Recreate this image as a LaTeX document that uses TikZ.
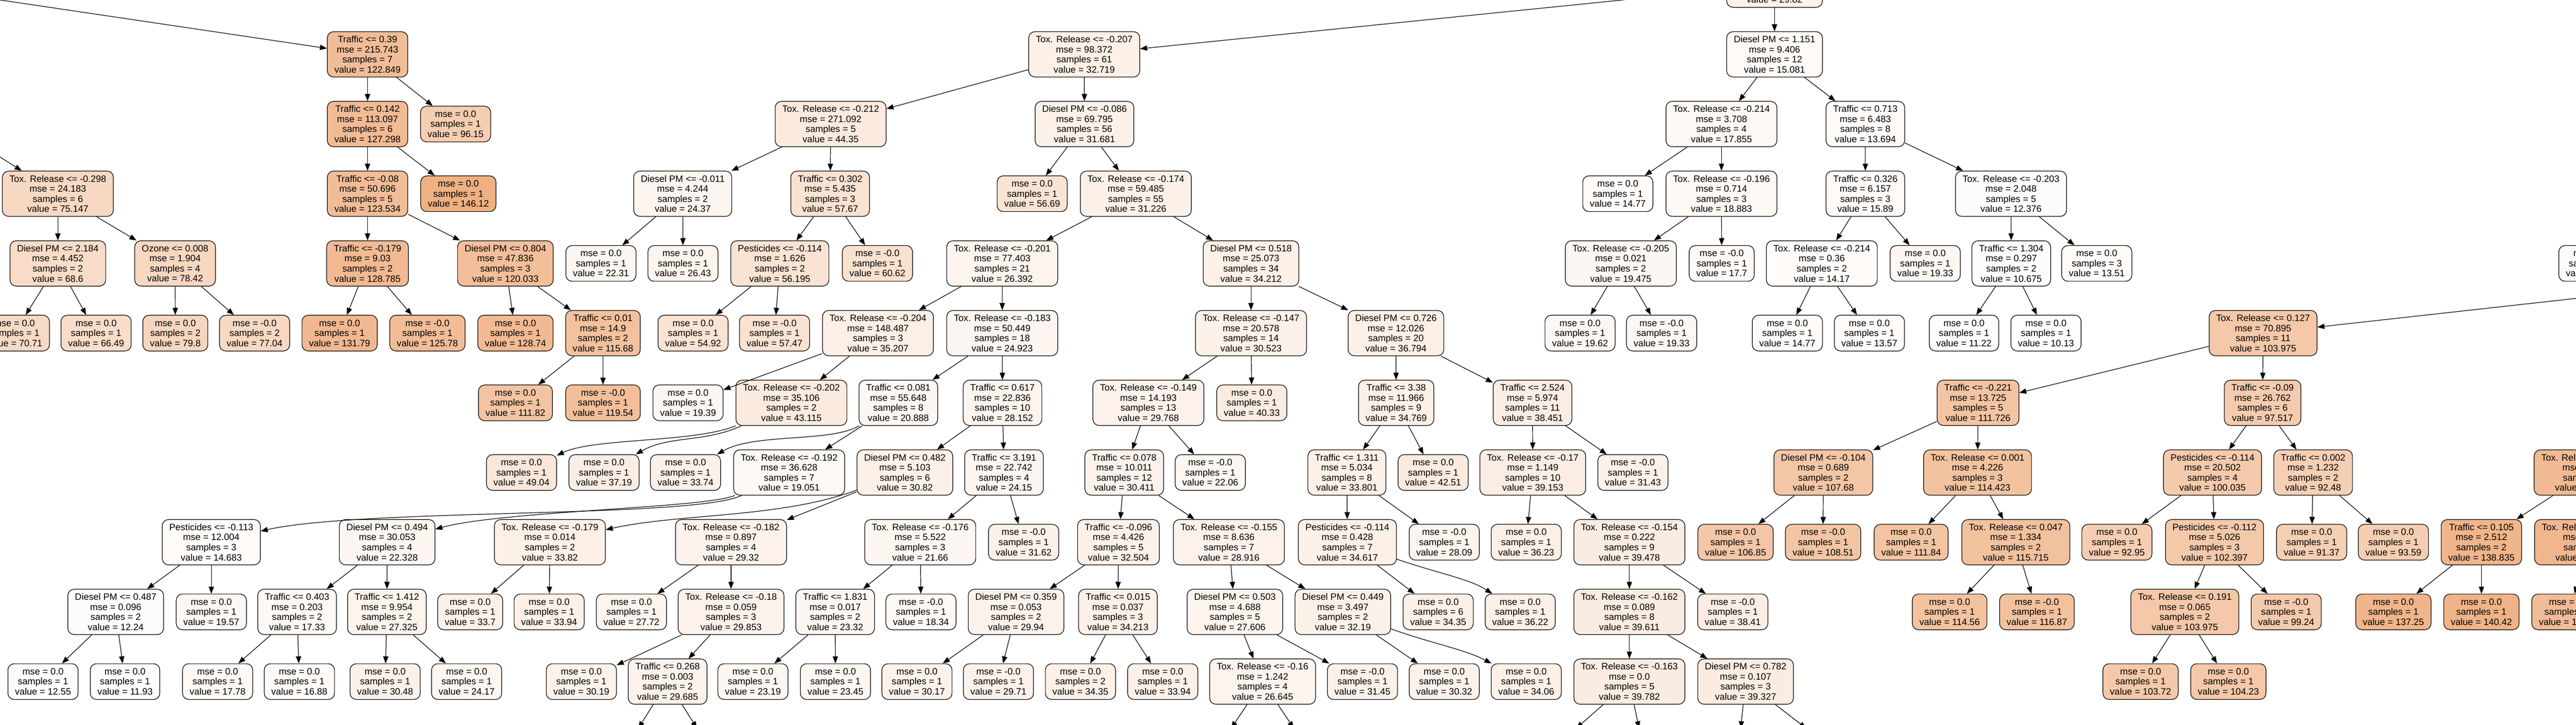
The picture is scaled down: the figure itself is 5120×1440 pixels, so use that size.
\documentclass[tikz,border=0pt]{standalone}
\usepackage{fontspec}
\setmainfont{Liberation Sans}
\usetikzlibrary{arrows.meta}
\definecolor{orng}{RGB}{229,129,57}
\begin{document}
\begin{tikzpicture}[x=0.02cm, y=-0.02cm, font={\fontsize{10.5}{11.4}\selectfont}, line width=0.7pt, line join=round, >={Triangle[length=8pt,width=6pt]},
	tbox/.style={draw, rounded corners=7pt, align=center, inner xsep=8pt, inner ysep=2pt},
	dec/.style={tbox, minimum height=1.8cm},
	lf/.style={tbox, minimum height=1.42cm},
	ghost/.style={minimum width=3cm, minimum height=1.8cm},
	val/.code={\pgfmathtruncatemacro\pct{(#1-6)*100/222}\edef\valfill{\noexpand\pgfkeysalso{fill=orng!\pct!white}}\valfill}]
	\useasboundingbox (0,0) rectangle (5120,1440);
	\clip (0,0) rectangle (5120,1440);
	\path
	(-206,-30.5)node[ghost](p1){}
	(3527,-30.5)node[dec,val=29.82](x0){\phantom{Diesel PM <= 0.000}\\\phantom{mse}\\\phantom{samples}\\value = 29.82}
	(730.5,108)node[dec,val=122.849](a0){Traffic <= 0.39\\mse = 215.743\\samples = 7\\value = 122.849}
	(2155,108)node[dec,val=32.719](b0){Tox. Release <= -0.207\\mse = 98.372\\samples = 61\\value = 32.719}
	(3527,108)node[dec,val=15.081](c0){Diesel PM <= 1.151\\mse = 9.406\\samples = 12\\value = 15.081}
	;
	\path
	(-103,246.5)node[ghost](p2){}
	(730.5,246.5)node[dec,val=127.298](a1){Traffic <= 0.142\\mse = 113.097\\samples = 6\\value = 127.298}
	(905.5,246.5)node[lf,val=96.15](a1r){mse = 0.0\\samples = 1\\value = 96.15}
	(1651,246.5)node[dec,val=44.35](b1){Tox. Release <= -0.212\\mse = 271.092\\samples = 5\\value = 44.35}
	(2155.5,246.5)node[dec,val=31.681](b1r){Diesel PM <= -0.086\\mse = 69.795\\samples = 56\\value = 31.681}
	(3421.5,246.5)node[dec,val=17.855](c1){Tox. Release <= -0.214\\mse = 3.708\\samples = 4\\value = 17.855}
	(3707.5,246.5)node[dec,val=13.694](c1r){Traffic <= 0.713\\mse = 6.483\\samples = 8\\value = 13.694}
	;
	\path
	(115,385)node[dec,val=75.147](l2){Tox. Release <= -0.298\\mse = 24.183\\samples = 6\\value = 75.147}
	(730.5,385)node[dec,val=123.534](a2){Traffic <= -0.08\\mse = 50.696\\samples = 5\\value = 123.534}
	(911,385)node[lf,val=146.12](a2r){mse = 0.0\\samples = 1\\value = 146.12}
	(1357,385)node[dec,val=24.37](b2){Diesel PM <= -0.011\\mse = 4.244\\samples = 2\\value = 24.37}
	(1650,385)node[dec,val=57.67](b2r){Traffic <= 0.302\\mse = 5.435\\samples = 3\\value = 57.67}
	(2051.5,385)node[lf,val=56.69](d2){mse = 0.0\\samples = 1\\value = 56.69}
	(2257.5,385)node[dec,val=31.226](e2){Tox. Release <= -0.174\\mse = 59.485\\samples = 55\\value = 31.226}
	(3215.5,385)node[lf,val=14.77](c2){mse = 0.0\\samples = 1\\value = 14.77}
	(3421.5,385)node[dec,val=18.883](c2b){Tox. Release <= -0.196\\mse = 0.714\\samples = 3\\value = 18.883}
	(3707.5,385)node[dec,val=15.89](f2){Traffic <= 0.326\\mse = 6.157\\samples = 3\\value = 15.89}
	(3997,385)node[dec,val=12.376](g2){Tox. Release <= -0.203\\mse = 2.048\\samples = 5\\value = 12.376}
	;
	\path
	(115,523.5)node[dec,val=68.6](l3a){Diesel PM <= 2.184\\mse = 4.452\\samples = 2\\value = 68.6}
	(348,523.5)node[dec,val=78.42](l3b){Ozone <= 0.008\\mse = 1.904\\samples = 4\\value = 78.42}
	(730.5,523.5)node[dec,val=128.785](a3){Traffic <= -0.179\\mse = 9.03\\samples = 2\\value = 128.785}
	(1004.5,523.5)node[dec,val=120.033](a3r){Diesel PM <= 0.804\\mse = 47.836\\samples = 3\\value = 120.033}
	(1194.5,523.5)node[lf,val=22.31](b3a){mse = 0.0\\samples = 1\\value = 22.31}
	(1357.5,523.5)node[lf,val=26.43](b3b){mse = 0.0\\samples = 1\\value = 26.43}
	(1550,523.5)node[dec,val=56.195](b3c){Pesticides <= -0.114\\mse = 1.626\\samples = 2\\value = 56.195}
	(1744,523.5)node[lf,val=60.62](b3d){mse = -0.0\\samples = 1\\value = 60.62}
	(1992,523.5)node[dec,val=26.392](e3){Tox. Release <= -0.201\\mse = 77.403\\samples = 21\\value = 26.392}
	(2486.5,523.5)node[dec,val=34.212](e3r){Diesel PM <= 0.518\\mse = 25.073\\samples = 34\\value = 34.212}
	(3221.5,523.5)node[dec,val=19.475](c3){Tox. Release <= -0.205\\mse = 0.021\\samples = 2\\value = 19.475}
	(3422,523.5)node[lf,val=17.7](c3r){mse = -0.0\\samples = 1\\value = 17.7}
	(3621,523.5)node[dec,val=14.17](f3){Tox. Release <= -0.214\\mse = 0.36\\samples = 2\\value = 14.17}
	(3826.5,523.5)node[lf,val=19.33](f3r){mse = 0.0\\samples = 1\\value = 19.33}
	(3997.5,523.5)node[dec,val=10.675](g3){Traffic <= 1.304\\mse = 0.297\\samples = 2\\value = 10.675}
	(4167.5,523.5)node[lf,val=13.51](g3r){mse = 0.0\\samples = 3\\value = 13.51}
	(5155.5,523.5)node[lf,val=12](z3){mse = \phantom{0.0}\\samples = \phantom{1}\\value = \phantom{00.00}}
	(5746,523.5)node[ghost](p3){}
	;
	\path
	(28.5,662)node[lf,val=70.71](l4a){mse = 0.0\\samples = 1\\value = 70.71}
	(191,662)node[lf,val=66.49](l4b){mse = 0.0\\samples = 1\\value = 66.49}
	(348.5,662)node[lf,val=79.8](l4c){mse = 0.0\\samples = 2\\value = 79.8}
	(506,662)node[lf,val=77.04](l4d){mse = -0.0\\samples = 2\\value = 77.04}
	(675,662)node[lf,val=131.79](a4a){mse = 0.0\\samples = 1\\value = 131.79}
	(849.5,662)node[lf,val=125.78](a4b){mse = -0.0\\samples = 1\\value = 125.78}
	(1024.5,662)node[lf,val=128.74](a4c){mse = 0.0\\samples = 1\\value = 128.74}
	(1198.5,662)node[dec,val=115.68](a4d){Traffic <= 0.01\\mse = 14.9\\samples = 2\\value = 115.68}
	(1377.5,662)node[lf,val=54.92](b4a){mse = 0.0\\samples = 1\\value = 54.92}
	(1539.5,662)node[lf,val=57.47](b4b){mse = -0.0\\samples = 1\\value = 57.47}
	(1745,662)node[dec,val=35.207](e4a){Tox. Release <= -0.204\\mse = 148.487\\samples = 3\\value = 35.207}
	(1992,662)node[dec,val=24.923](e4b){Tox. Release <= -0.183\\mse = 50.449\\samples = 18\\value = 24.923}
	(2486.5,662)node[dec,val=30.523](e4c){Tox. Release <= -0.147\\mse = 20.578\\samples = 14\\value = 30.523}
	(2774.5,662)node[dec,val=36.794](e4d){Diesel PM <= 0.726\\mse = 12.026\\samples = 20\\value = 36.794}
	(3140.5,662)node[lf,val=19.62](c4a){mse = 0.0\\samples = 1\\value = 19.62}
	(3302.5,662)node[lf,val=19.33](c4b){mse = -0.0\\samples = 1\\value = 19.33}
	(3552.5,662)node[lf,val=14.77](f4a){mse = 0.0\\samples = 1\\value = 14.77}
	(3715.5,662)node[lf,val=13.57](f4b){mse = 0.0\\samples = 1\\value = 13.57}
	(3903.5,662)node[lf,val=11.22](g4a){mse = 0.0\\samples = 1\\value = 11.22}
	(4066.5,662)node[lf,val=10.13](g4b){mse = 0.0\\samples = 1\\value = 10.13}
	(4498,662)node[dec,val=103.975](h4){Tox. Release <= 0.127\\mse = 70.895\\samples = 11\\value = 103.975}
	;
	\path
	(1024.5,800.5)node[lf,val=111.82](a5a){mse = 0.0\\samples = 1\\value = 111.82}
	(1198.5,800.5)node[lf,val=119.54](a5b){mse = -0.0\\samples = 1\\value = 119.54}
	(1367.5,800.5)node[lf,val=19.39](e5a){mse = 0.0\\samples = 1\\value = 19.39}
	(1573,800.5)node[dec,val=43.115](e5b){Tox. Release <= -0.202\\mse = 35.106\\samples = 2\\value = 43.115}
	(1785.5,800.5)node[dec,val=20.888](e5c){Traffic <= 0.081\\mse = 55.648\\samples = 8\\value = 20.888}
	(1992.5,800.5)node[dec,val=28.152](e5d){Traffic <= 0.617\\mse = 22.836\\samples = 10\\value = 28.152}
	(2282.5,800.5)node[dec,val=29.768](e5e){Tox. Release <= -0.149\\mse = 14.193\\samples = 13\\value = 29.768}
	(2488,800.5)node[lf,val=40.33](e5f){mse = 0.0\\samples = 1\\value = 40.33}
	(2775,800.5)node[dec,val=34.769](e5g){Traffic <= 3.38\\mse = 11.966\\samples = 9\\value = 34.769}
	(3046,800.5)node[dec,val=38.451](e5h){Traffic <= 2.524\\mse = 5.974\\samples = 11\\value = 38.451}
	(3931.5,800.5)node[dec,val=111.726](h5a){Traffic <= -0.221\\mse = 13.725\\samples = 5\\value = 111.726}
	(4497,800.5)node[dec,val=97.517](h5b){Traffic <= -0.09\\mse = 26.762\\samples = 6\\value = 97.517}
	;
	\path
	(1036.5,939)node[lf,val=49.04](r6a){mse = 0.0\\samples = 1\\value = 49.04}
	(1200.5,939)node[lf,val=37.19](r6b){mse = 0.0\\samples = 1\\value = 37.19}
	(1362.5,939)node[lf,val=33.74](r6c){mse = 0.0\\samples = 1\\value = 33.74}
	(1568.5,939)node[dec,val=19.051](r6d){Tox. Release <= -0.192\\mse = 36.628\\samples = 7\\value = 19.051}
	(1798.5,939)node[dec,val=30.82](r6e){Diesel PM <= 0.482\\mse = 5.103\\samples = 6\\value = 30.82}
	(1995.5,939)node[dec,val=24.15](r6f){Traffic <= 3.191\\mse = 22.742\\samples = 4\\value = 24.15}
	(2234.5,939)node[dec,val=30.411](r6g){Traffic <= 0.078\\mse = 10.011\\samples = 12\\value = 30.411}
	(2405.5,939)node[lf,val=22.06](r6h){mse = -0.0\\samples = 1\\value = 22.06}
	(2677,939)node[dec,val=33.801](r6i){Traffic <= 1.311\\mse = 5.034\\samples = 8\\value = 33.801}
	(2848.5,939)node[lf,val=42.51](r6j){mse = 0.0\\samples = 1\\value = 42.51}
	(3046.5,939)node[dec,val=39.153](r6k){Tox. Release <= -0.17\\mse = 1.149\\samples = 10\\value = 39.153}
	(3245.5,939)node[lf,val=31.43](r6l){mse = -0.0\\samples = 1\\value = 31.43}
	(3624,939)node[dec,val=107.68](r6m){Diesel PM <= -0.104\\mse = 0.689\\samples = 2\\value = 107.68}
	(3930.5,939)node[dec,val=114.423](r6n){Tox. Release <= 0.001\\mse = 4.226\\samples = 3\\value = 114.423}
	(4397.5,939)node[dec,val=100.035](r6o){Pesticides <= -0.114\\mse = 20.502\\samples = 4\\value = 100.035}
	(4597.5,939)node[dec,val=92.48](r6p){Traffic <= 0.002\\mse = 1.232\\samples = 2\\value = 92.48}
	(5144,939)node[dec,val=130](r6q){Tox. Release <= \phantom{0.000}\\mse = \phantom{0.000}\\samples = \phantom{0}\\value = \phantom{000.000}}
	;
	\path
	(420,1077.5)node[dec,val=14.683](r7a){Pesticides <= -0.113\\mse = 12.004\\samples = 3\\value = 14.683}
	(769.5,1077.5)node[dec,val=22.328](r7b){Diesel PM <= 0.494\\mse = 30.053\\samples = 4\\value = 22.328}
	(1093,1077.5)node[dec,val=33.82](r7c){Tox. Release <= -0.179\\mse = 0.014\\samples = 2\\value = 33.82}
	(1453,1077.5)node[dec,val=29.32](r7d){Tox. Release <= -0.182\\mse = 0.897\\samples = 4\\value = 29.32}
	(1829,1077.5)node[dec,val=21.66](r7e){Tox. Release <= -0.176\\mse = 5.522\\samples = 3\\value = 21.66}
	(2034.5,1077.5)node[lf,val=31.62](r7f){mse = -0.0\\samples = 1\\value = 31.62}
	(2223,1077.5)node[dec,val=32.504](r7g){Traffic <= -0.096\\mse = 4.426\\samples = 5\\value = 32.504}
	(2442.5,1077.5)node[dec,val=28.916](r7h){Tox. Release <= -0.155\\mse = 8.636\\samples = 7\\value = 28.916}
	(2678,1077.5)node[dec,val=34.617](r7i){Pesticides <= -0.114\\mse = 0.428\\samples = 7\\value = 34.617}
	(2870.5,1077.5)node[lf,val=28.09](r7j){mse = -0.0\\samples = 1\\value = 28.09}
	(3033.5,1077.5)node[lf,val=36.23](r7k){mse = 0.0\\samples = 1\\value = 36.23}
	(3238.5,1077.5)node[dec,val=39.478](r7l){Tox. Release <= -0.154\\mse = 0.222\\samples = 9\\value = 39.478}
	(3449.5,1077.5)node[lf,val=106.85](r7m){mse = 0.0\\samples = 1\\value = 106.85}
	(3623.5,1077.5)node[lf,val=108.51](r7n){mse = -0.0\\samples = 1\\value = 108.51}
	(3798.5,1077.5)node[lf,val=111.84](r7o){mse = 0.0\\samples = 1\\value = 111.84}
	(4006.5,1077.5)node[dec,val=115.715](r7p){Tox. Release <= 0.047\\mse = 1.334\\samples = 2\\value = 115.715}
	(4207.5,1077.5)node[lf,val=92.95](r7q){mse = 0.0\\samples = 1\\value = 92.95}
	(4401.5,1077.5)node[dec,val=102.397](r7r){Pesticides <= -0.112\\mse = 5.026\\samples = 3\\value = 102.397}
	(4594.5,1077.5)node[lf,val=91.37](r7s){mse = 0.0\\samples = 1\\value = 91.37}
	(4757,1077.5)node[lf,val=93.59](r7t){mse = 0.0\\samples = 1\\value = 93.59}
	(4932,1077.5)node[dec,val=138.835](r7v){Traffic <= 0.105\\mse = 2.512\\samples = 2\\value = 138.835}
	(5145,1077.5)node[dec,val=133](r7w){Tox. Release <= \phantom{0.000}\\mse = \phantom{0.000}\\samples = \phantom{0}\\value = \phantom{000.000}}
	;
	\path
	(230,1216)node[dec,val=12.24](r8a){Diesel PM <= 0.487\\mse = 0.096\\samples = 2\\value = 12.24}
	(420,1216)node[lf,val=19.57](r8b){mse = 0.0\\samples = 1\\value = 19.57}
	(590.5,1216)node[dec,val=17.33](r8c){Traffic <= 0.403\\mse = 0.203\\samples = 2\\value = 17.33}
	(769,1216)node[dec,val=27.325](r8d){Traffic <= 1.412\\mse = 9.954\\samples = 2\\value = 27.325}
	(934.5,1216)node[lf,val=33.7](r8e){mse = 0.0\\samples = 1\\value = 33.7}
	(1091.5,1216)node[lf,val=33.94](r8f){mse = 0.0\\samples = 1\\value = 33.94}
	(1255,1216)node[lf,val=27.72](r8g){mse = 0.0\\samples = 1\\value = 27.72}
	(1453,1216)node[dec,val=29.853](r8h){Tox. Release <= -0.18\\mse = 0.059\\samples = 3\\value = 29.853}
	(1660,1216)node[dec,val=23.32](r8i){Traffic <= 1.831\\mse = 0.017\\samples = 2\\value = 23.32}
	(1830.5,1216)node[lf,val=18.34](r8j){mse = -0.0\\samples = 1\\value = 18.34}
	(2019.5,1216)node[dec,val=29.94](r8k){Diesel PM <= 0.359\\mse = 0.053\\samples = 2\\value = 29.94}
	(2222,1216)node[dec,val=34.213](r8l){Traffic <= 0.015\\mse = 0.037\\samples = 3\\value = 34.213}
	(2454.5,1216)node[dec,val=27.606](r8m){Diesel PM <= 0.503\\mse = 4.688\\samples = 5\\value = 27.606}
	(2669,1216)node[dec,val=32.19](r8n){Diesel PM <= 0.449\\mse = 3.497\\samples = 2\\value = 32.19}
	(2858.5,1216)node[lf,val=34.35](r8o){mse = 0.0\\samples = 6\\value = 34.35}
	(3021.5,1216)node[lf,val=36.22](r8p){mse = 0.0\\samples = 1\\value = 36.22}
	(3238.5,1216)node[dec,val=39.611](r8q){Tox. Release <= -0.162\\mse = 0.089\\samples = 8\\value = 39.611}
	(3444,1216)node[lf,val=38.41](r8r){mse = -0.0\\samples = 1\\value = 38.41}
	(3875,1216)node[lf,val=114.56](r8s){mse = 0.0\\samples = 1\\value = 114.56}
	(4048.5,1216)node[lf,val=116.87](r8t){mse = -0.0\\samples = 1\\value = 116.87}
	(4342.5,1216)node[dec,val=103.975](r8u){Tox. Release <= 0.191\\mse = 0.065\\samples = 2\\value = 103.975}
	(4544,1216)node[lf,val=99.24](r8v){mse = -0.0\\samples = 1\\value = 99.24}
	(4757,1216)node[lf,val=137.25](r8w){mse = 0.0\\samples = 1\\value = 137.25}
	(4932,1216)node[lf,val=140.42](r8x){mse = 0.0\\samples = 1\\value = 140.42}
	(5107,1216)node[lf,val=125](r8y){mse = 0.0\\samples = \phantom{1}\\value = 1\phantom{00.00}}
	;
	\path
	(85.5,1354.5)node[lf,val=12.55](r9a){mse = 0.0\\samples = 1\\value = 12.55}
	(248.5,1354.5)node[lf,val=11.93](r9b){mse = 0.0\\samples = 1\\value = 11.93}
	(432.5,1354.5)node[lf,val=17.78](r9c){mse = 0.0\\samples = 1\\value = 17.78}
	(595,1354.5)node[lf,val=16.88](r9d){mse = 0.0\\samples = 1\\value = 16.88}
	(765.5,1354.5)node[lf,val=30.48](r9e){mse = 0.0\\samples = 1\\value = 30.48}
	(927.5,1354.5)node[lf,val=24.17](r9f){mse = 0.0\\samples = 1\\value = 24.17}
	(1155.5,1354.5)node[lf,val=30.19](r9g){mse = 0.0\\samples = 1\\value = 30.19}
	(1327,1354.5)node[dec,val=29.685](r9h){Traffic <= 0.268\\mse = 0.003\\samples = 2\\value = 29.685}
	(1496.5,1354.5)node[lf,val=23.19](r9i){mse = 0.0\\samples = 1\\value = 23.19}
	(1660.5,1354.5)node[lf,val=23.45](r9j){mse = 0.0\\samples = 1\\value = 23.45}
	(1822.5,1354.5)node[lf,val=30.17](r9k){mse = 0.0\\samples = 1\\value = 30.17}
	(1984.5,1354.5)node[lf,val=29.71](r9l){mse = -0.0\\samples = 1\\value = 29.71}
	(2147.5,1354.5)node[lf,val=34.35](r9m){mse = 0.0\\samples = 2\\value = 34.35}
	(2311,1354.5)node[lf,val=33.94](r9n){mse = 0.0\\samples = 1\\value = 33.94}
	(2509.5,1354.5)node[dec,val=26.645](r9o){Tox. Release <= -0.16\\mse = 1.242\\samples = 4\\value = 26.645}
	(2708,1354.5)node[lf,val=31.45](r9p){mse = -0.0\\samples = 1\\value = 31.45}
	(2870.5,1354.5)node[lf,val=30.32](r9q){mse = 0.0\\samples = 1\\value = 30.32}
	(3033.5,1354.5)node[lf,val=34.06](r9r){mse = 0.0\\samples = 1\\value = 34.06}
	(3238.5,1354.5)node[dec,val=39.782](r9s){Tox. Release <= -0.163\\mse = 0.0\\samples = 5\\value = 39.782}
	(3469.5,1354.5)node[dec,val=39.327](r9t){Diesel PM <= 0.782\\mse = 0.107\\samples = 3\\value = 39.327}
	(4254.5,1354.5)node[lf,val=103.72](r9u){mse = 0.0\\samples = 1\\value = 103.72}
	(4429,1354.5)node[lf,val=104.23](r9v){mse = 0.0\\samples = 1\\value = 104.23}
	;
	\path
	(1240,1493)node[ghost](q1){}
	(1414,1493)node[ghost](q2){}
	(2416,1493)node[ghost](q3){}
	(2602,1493)node[ghost](q4){}
	(3081,1493)node[ghost](q5){}
	(3267,1493)node[ghost](q6){}
	(3455,1493)node[ghost](q7){}
	(3649,1493)node[ghost](q8){}
	;
	\path[->] (p1) edge (a0);
	\path[->] (x0) edge (b0) edge (c0);
	\path[->] (a0) edge (a1) edge (a1r);
	\path[->] (b0) edge (b1) edge (b1r);
	\path[->] (c0) edge (c1) edge (c1r);
	\path[->] (p2) edge (l2);
	\path[->] (a1) edge (a2) edge (a2r);
	\path[->] (b1) edge (b2) edge (b2r);
	\path[->] (b1r) edge (d2) edge (e2);
	\path[->] (c1) edge (c2) edge (c2b);
	\path[->] (c1r) edge (f2) edge (g2);
	\path[->] (l2) edge (l3a) edge (l3b);
	\path[->] (a2) edge (a3) edge (a3r);
	\path[->] (b2) edge (b3a) edge (b3b);
	\path[->] (b2r) edge (b3c) edge (b3d);
	\path[->] (e2) edge (e3) edge (e3r);
	\path[->] (c2b) edge (c3) edge (c3r);
	\path[->] (f2) edge (f3) edge (f3r);
	\path[->] (g2) edge (g3) edge (g3r);
	\path[->] (l3a) edge (l4a) edge (l4b);
	\path[->] (l3b) edge (l4c) edge (l4d);
	\path[->] (a3) edge (a4a) edge (a4b);
	\path[->] (a3r) edge (a4c) edge (a4d);
	\path[->] (b3c) edge (b4a) edge (b4b);
	\path[->] (e3) edge (e4a) edge (e4b);
	\path[->] (e3r) edge (e4c) edge (e4d);
	\path[->] (c3) edge (c4a) edge (c4b);
	\path[->] (f3) edge (f4a) edge (f4b);
	\path[->] (g3) edge (g4a) edge (g4b);
	\path[->] (p3) edge (h4);
	\path[->] (a4d) edge (a5a) edge (a5b);
	\path[->] (e4a) edge (e5a) edge (e5b);
	\path[->] (e4b) edge (e5c) edge (e5d);
	\path[->] (e4c) edge (e5e) edge (e5f);
	\path[->] (e4d) edge (e5g) edge (e5h);
	\path[->] (h4) edge (h5a) edge (h5b);
	\draw[->] (e5b) .. controls (1380,880) and (1180,870) .. (r6a);
	\draw[->] (e5b) .. controls (1400,880) and (1330,865) .. (r6b);
	\draw[->] (e5c) .. controls (1650,880) and (1500,860) .. (r6c);
	\path[->] (e5c) edge (r6d);
	\path[->] (e5d) edge (r6e) edge (r6f);
	\path[->] (e5e) edge (r6g) edge (r6h);
	\path[->] (e5g) edge (r6i) edge (r6j);
	\path[->] (e5h) edge (r6k) edge (r6l);
	\path[->] (h5a) edge (r6m) edge (r6n);
	\path[->] (h5b) edge (r6o) edge (r6p);
	\draw[->] (r6d) .. controls (1380,1030) and (720,1010) .. (r7a);
	\draw[->] (r6d) .. controls (1400,1010) and (1000,1015) .. (r7b);
	\draw[->] (r6e) .. controls (1550,1030) and (1350,1020) .. (r7c);
	\path[->] (r6e) edge (r7d);
	\path[->] (r6f) edge (r7e) edge (r7f);
	\path[->] (r6g) edge (r7g) edge (r7h);
	\path[->] (r6i) edge (r7i) edge (r7j);
	\path[->] (r6k) edge (r7k) edge (r7l);
	\path[->] (r6m) edge (r7m) edge (r7n);
	\path[->] (r6n) edge (r7o) edge (r7p);
	\path[->] (r6o) edge (r7q) edge (r7r);
	\path[->] (r6p) edge (r7s) edge (r7t);
	\path[->] (r6q) edge (r7v) edge (r7w);
	\path[->] (r7a) edge (r8a) edge (r8b);
	\path[->] (r7b) edge (r8c) edge (r8d);
	\path[->] (r7c) edge (r8e) edge (r8f);
	\path[->] (r7d) edge (r8g) edge (r8h);
	\path[->] (r7e) edge (r8i) edge (r8j);
	\path[->] (r7g) edge (r8k) edge (r8l);
	\path[->] (r7h) edge (r8m) edge (r8n);
	\path[->] (r7i) edge (r8o);
	\draw[->] (r7i) .. controls (2860,1140) and (2920,1150) .. (r8p);
	\path[->] (r7l) edge (r8q) edge (r8r);
	\path[->] (r7p) edge (r8s) edge (r8t);
	\path[->] (r7r) edge (r8u) edge (r8v);
	\path[->] (r7v) edge (r8w) edge (r8x);
	\path[->] (r7w) edge (r8y);
	\path[->] (r8a) edge (r9a) edge (r9b);
	\path[->] (r8c) edge (r9c) edge (r9d);
	\path[->] (r8d) edge (r9e) edge (r9f);
	\path[->] (r8h) edge (r9g) edge (r9h);
	\path[->] (r8i) edge (r9i) edge (r9j);
	\path[->] (r8k) edge (r9k) edge (r9l);
	\path[->] (r8l) edge (r9m) edge (r9n);
	\path[->] (r8m) edge (r9o) edge (r9p);
	\path[->] (r8n) edge (r9q);
	\draw[->] (r8n) .. controls (2850,1280) and (2910,1290) .. (r9r);
	\path[->] (r8q) edge (r9s) edge (r9t);
	\path[->] (r8u) edge (r9u) edge (r9v);
	\path[->] (r9h) edge (q1) edge (q2);
	\path[->] (r9o) edge (q3) edge (q4);
	\path[->] (r9s) edge (q5) edge (q6);
	\path[->] (r9t) edge (q7) edge (q8);
\end{tikzpicture}
\end{document}
